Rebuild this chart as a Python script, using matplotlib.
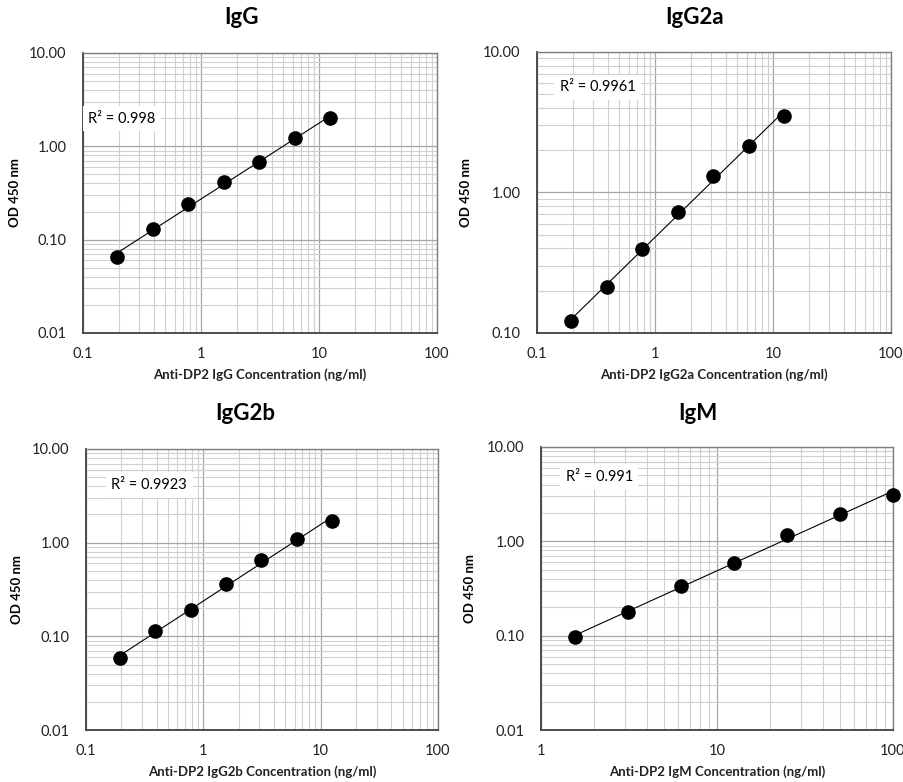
import matplotlib

matplotlib.use("Agg")

import matplotlib.pyplot as plt
import numpy as np
from matplotlib.ticker import FixedLocator, FixedFormatter, LogLocator, NullFormatter

plt.rcParams["font.family"] = ["Lato", "DejaVu Sans"]

# two-fold dilution series (ng/ml)
conc_igg = [0.195, 0.39, 0.78, 1.56, 3.125, 6.25, 12.5]
conc_igm = [1.5625, 3.125, 6.25, 12.5, 25, 50, 100]

od_igg = [0.066, 0.129, 0.239, 0.414, 0.678, 1.23, 2.0]
od_igg2a = [0.122, 0.212, 0.397, 0.731, 1.32, 2.15, 3.53]
od_igg2b = [0.058, 0.114, 0.191, 0.362, 0.659, 1.09, 1.69]
od_igm = [0.096, 0.179, 0.340, 0.587, 1.18, 1.96, 3.07]

titles = ["IgG", "IgG2a", "IgG2b", "IgM"]
xlabels = [
    "Anti-DP2 IgG Concentration (ng/ml)",
    "Anti-DP2 IgG2a Concentration (ng/ml)",
    "Anti-DP2 IgG2b Concentration (ng/ml)",
    "Anti-DP2 IgM Concentration (ng/ml)",
]
r2_labels = ["R² = 0.998", "R² = 0.9961", "R² = 0.9923", "R² = 0.991"]

W, H = 904, 782


def px_axes(fig, left, top, right, bottom):
    return fig.add_axes([left / W, 1 - bottom / H, (right - left) / W, (bottom - top) / H])


def draw(fig, box, x, y, xlim, ylim, title, xlabel, r2, r2pos, title_xy, ylab_x):
    ax = px_axes(fig, *box)
    ax.set_xscale("log")
    ax.set_yscale("log")
    ax.set_xlim(*xlim)
    ax.set_ylim(*ylim)

    ax.grid(True, which="major", color="#a6a6a6", linewidth=0.9)
    ax.grid(True, which="minor", color="#d0d0d0", linewidth=0.8)
    ax.set_axisbelow(True)

    # power trendline fitted in log-log space
    lx, ly = np.log10(x), np.log10(y)
    b, a = np.polyfit(lx, ly, 1)
    xf = np.array([x[0], x[-1]])
    ax.plot(xf, 10 ** (a + b * np.log10(xf)), color="black", linewidth=0.8, zorder=3)
    ax.plot(x, y, "o", color="black", markersize=9.5, zorder=4, clip_on=False)

    xt = [10.0 ** k for k in range(int(np.log10(xlim[0])), int(np.log10(xlim[1])) + 1)]
    ax.xaxis.set_major_locator(FixedLocator(xt))
    ax.xaxis.set_major_formatter(FixedFormatter([f"{v:g}" for v in xt]))
    ax.xaxis.set_minor_locator(LogLocator(base=10, subs=np.arange(2, 10)))
    ax.xaxis.set_minor_formatter(NullFormatter())
    yt = [10.0 ** k for k in range(int(round(np.log10(ylim[0]))), int(round(np.log10(ylim[1]))) + 1)]
    ax.yaxis.set_major_locator(FixedLocator(yt))
    ax.yaxis.set_major_formatter(FixedFormatter([f"{v:.2f}" for v in yt]))
    ax.yaxis.set_minor_locator(LogLocator(base=10, subs=np.arange(2, 10)))
    ax.yaxis.set_minor_formatter(NullFormatter())

    ax.tick_params(which="both", length=0, labelsize=10.5, colors="#222222", pad=10)
    ax.tick_params(axis="y", pad=12)
    for side in ["left", "bottom"]:
        ax.spines[side].set_color("#404040")
        ax.spines[side].set_linewidth(1.3)
    for side in ["top", "right"]:
        ax.spines[side].set_color("#7f7f7f")
        ax.spines[side].set_linewidth(1.0)

    ax.text(r2pos[0], r2pos[1], r2, transform=ax.transAxes, fontsize=10.5, va="center",
            ha="left", zorder=5,
            bbox=dict(facecolor="white", edgecolor="none", pad=4))

    fig.text(title_xy[0] / W, 1 - title_xy[1] / H, title, fontsize=16, fontweight="bold",
             ha="center", va="center")
    fig.text((box[0] + box[2]) / 2 / W, 1 - (box[3] + 42) / H, xlabel, fontsize=9.5,
             fontweight="bold", ha="center", va="center", color="#222222")
    fig.text(ylab_x / W, 1 - (box[1] + box[3]) / 2 / H, "OD 450 nm", fontsize=9.5,
             fontweight="bold", ha="center", va="center", rotation=90)


fig = plt.figure(figsize=(W / 100, H / 100), dpi=100)

draw(fig, (83, 53, 437, 333), conc_igg, od_igg, (0.1, 100), (0.01, 10),
     titles[0], xlabels[0], r2_labels[0], (0.015, 0.765), (242, 17), 15)
draw(fig, (537, 52, 891, 333), conc_igg, od_igg2a, (0.1, 100), (0.1, 10),
     titles[1], xlabels[1], r2_labels[1], (0.065, 0.875), (695, 17), 466)
draw(fig, (86, 449, 438, 730), conc_igg, od_igg2b, (0.1, 100), (0.01, 10),
     titles[2], xlabels[2], r2_labels[2], (0.072, 0.872), (245, 413), 17)
draw(fig, (541, 447, 893, 730), conc_igm, od_igm, (1, 100), (0.01, 10),
     titles[3], xlabels[3], r2_labels[3], (0.07, 0.894), (698, 413), 470)

fig.savefig("out.png", dpi=100)
